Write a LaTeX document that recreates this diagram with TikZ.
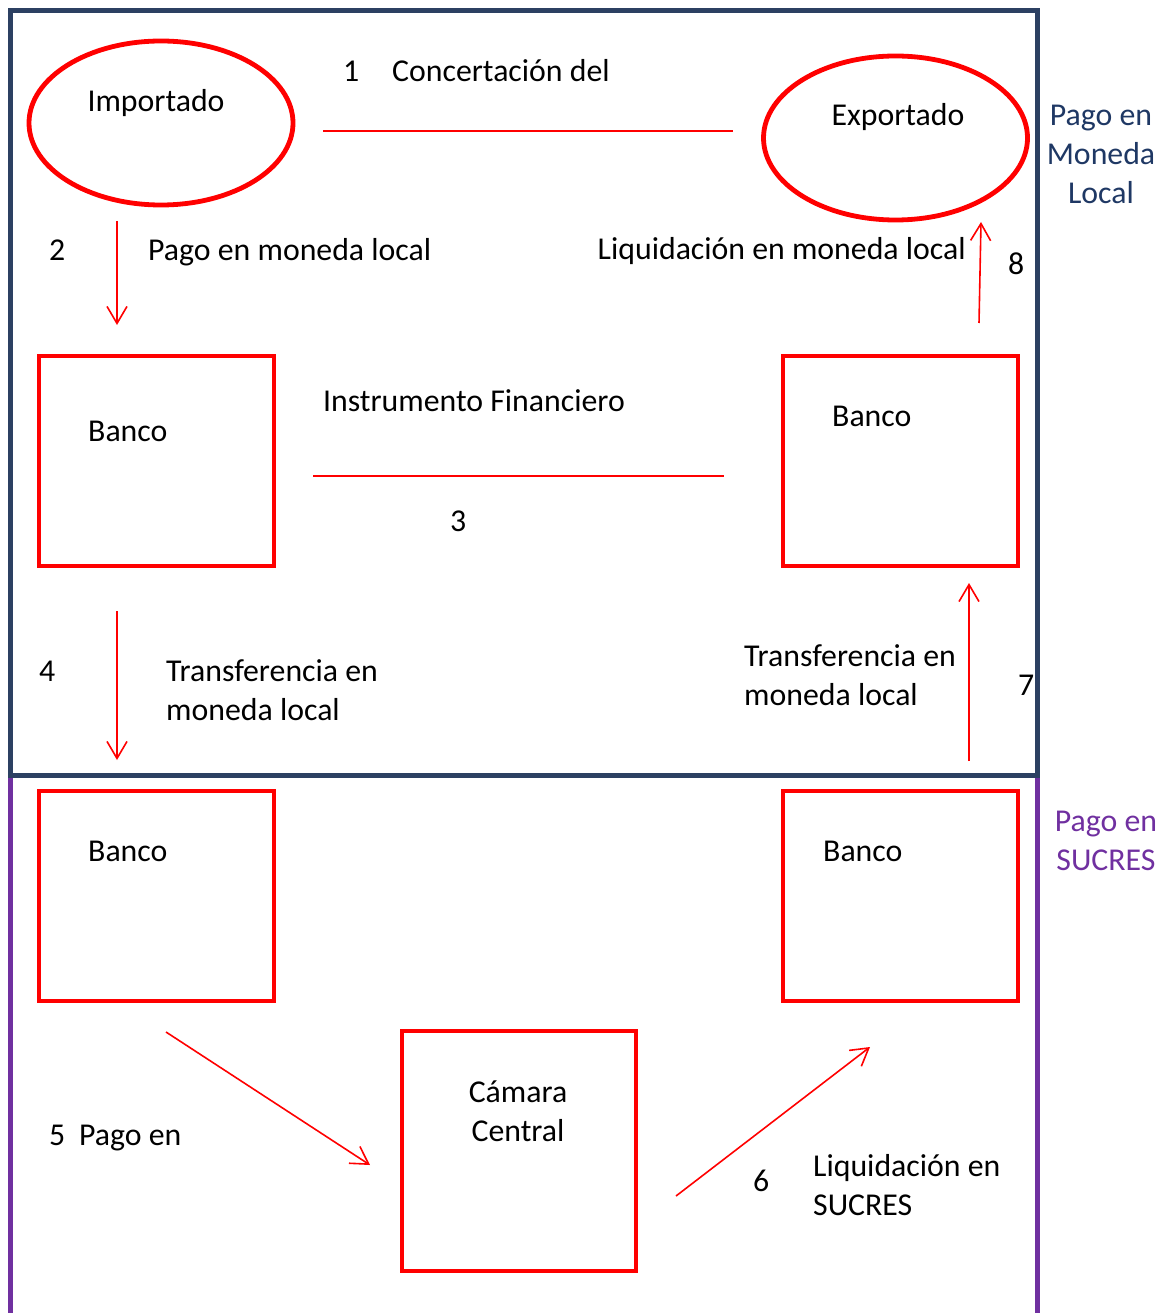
\documentclass[tikz,border=0pt]{standalone}
\usepackage{fontspec}
\setmainfont{Carlito}
\usetikzlibrary{shapes.geometric,arrows.meta,positioning}

\definecolor{marco}{RGB}{44,64,98}
\definecolor{etiqueta}{RGB}{31,56,100}
\definecolor{violeta}{RGB}{112,48,160}

\tikzset{
  banco/.style={draw=red, line width=4.8pt, minimum width=235pt, minimum height=210pt, inner sep=0pt},
  agente/.style={draw=red, line width=4.8pt, ellipse, minimum width=264pt, minimum height=164pt, inner sep=0pt},
  txt/.style={inner sep=0pt, font=\fontsize{31.8pt}{39pt}\selectfont},
  flujo/.style={red, line width=1.6pt, -{Straight Barb[length=17pt,width=20pt]}},
  enlace/.style={red, line width=2pt},
}

\begin{document}
\begin{tikzpicture}[x=1pt,y=-1pt]
    \useasboundingbox (0,0) rectangle (1173,1313);

    % Frames
    \draw[marco, line width=5pt, line join=miter] (10,775.5) -- (10,11) -- (1037.5,11) -- (1037.5,775.5) -- cycle;
    \draw[violeta, line width=5pt] (10,778) -- (10,1313);
    \draw[violeta, line width=5pt] (1037.5,778) -- (1037.5,1313);
    \node[txt, etiqueta, align=center, anchor=base] (monloc) at (1101,204) {Pago en\\Moneda\\Local};
    \node[txt, violeta, align=center, anchor=base] (pagsuc) at (1106,870) {Pago en\\SUCRES};

    % Importer and exporter
    \node[agente] (imp) at (161,123) {};
    \node[agente] (exp) at (895.5,138) {};
    \node[txt, anchor=base] (timp) at (156,112) {Importado};
    \node[txt, anchor=base] (texp) at (898,126) {Exportado};

    % Banks
    \node[banco] (bA) at (156.5,461) {};
    \node[banco] (bB) at (900.5,461) {};
    \node[banco] (bC) at (156.5,896) {};
    \node[banco] (bD) at (900.5,896) {};
    \node[banco, minimum width=234pt, minimum height=240pt] (cam) at (519,1151) {};
    \node[txt, anchor=base west] (tbA) at (88,441) {Banco};
    \node[txt, anchor=base west] (tbB) at (832,426) {Banco};
    \node[txt, anchor=base west] (tbC) at (88,861) {Banco};
    \node[txt, anchor=base west] (tbD) at (823,861) {Banco};
    \node[txt, align=center, anchor=base] (tcam) at (518,1141) {Cámara\\Central};

    % Connector ends
    \coordinate (l1a) at (323,131);
    \coordinate (l1b) at (733,131);
    \coordinate (a2a) at (117,221);
    \coordinate (a2b) at (117,325);
    \coordinate (a8a) at (979,323);
    \coordinate (a8b) at (981,222);
    \coordinate (l3a) at (313,476);
    \coordinate (l3b) at (724,476);
    \coordinate (a4a) at (117,611);
    \coordinate (a4b) at (117,760);
    \coordinate (a7a) at (969,761);
    \coordinate (a7b) at (969,583);
    \coordinate (a5a) at (166,1032);
    \coordinate (a5b) at (370,1165);
    \coordinate (a6a) at (676,1196);
    \coordinate (a6b) at (870,1047);

    % Flows
    \draw[enlace] (l1a) -- (l1b);
    \draw[flujo] (a2a) -- (a2b);
    \draw[flujo] (a8a) -- (a8b);
    \draw[enlace] (l3a) -- (l3b);
    \draw[flujo] (a4a) -- (a4b);
    \draw[flujo] (a7a) -- (a7b);
    \draw[flujo] (a5a) -- (a5b);
    \draw[flujo] (a6a) -- (a6b);

    % Labels
    \node[txt, anchor=base west] (n1) at (343,82) {1};
    \node[txt, anchor=base west] (t1) at (392,82) {Concertación del};
    \node[txt, anchor=base west] (n2) at (49,261) {2};
    \node[txt, anchor=base west] (t2) at (148,261) {Pago en moneda local};
    \node[txt, anchor=base east] (t8) at (966,260) {Liquidación en moneda local};
    \node[txt, anchor=base west] (n8) at (1008,275) {8};
    \node[txt, anchor=base west] (tins) at (323,411) {Instrumento Financiero};
    \node[txt, anchor=base west] (n3) at (450,531) {3};
    \node[txt, anchor=base west] (n4) at (39,681) {4};
    \node[txt, align=left, anchor=base west] (t4) at (166,720) {Transferencia en\\moneda local};
    \node[txt, align=left, anchor=base west] (t7) at (744,705) {Transferencia en\\moneda local};
    \node[txt, anchor=base west] (n7) at (1018,695) {7};
    \node[txt, anchor=base west] (n5) at (49,1145) {5};
    \node[txt, anchor=base west] (t5) at (79,1145) {Pago en};
    \node[txt, anchor=base west] (n6) at (753,1191) {6};
    \node[txt, align=left, anchor=base west] (t6) at (813,1215) {Liquidación en\\SUCRES};
\end{tikzpicture}
\end{document}
